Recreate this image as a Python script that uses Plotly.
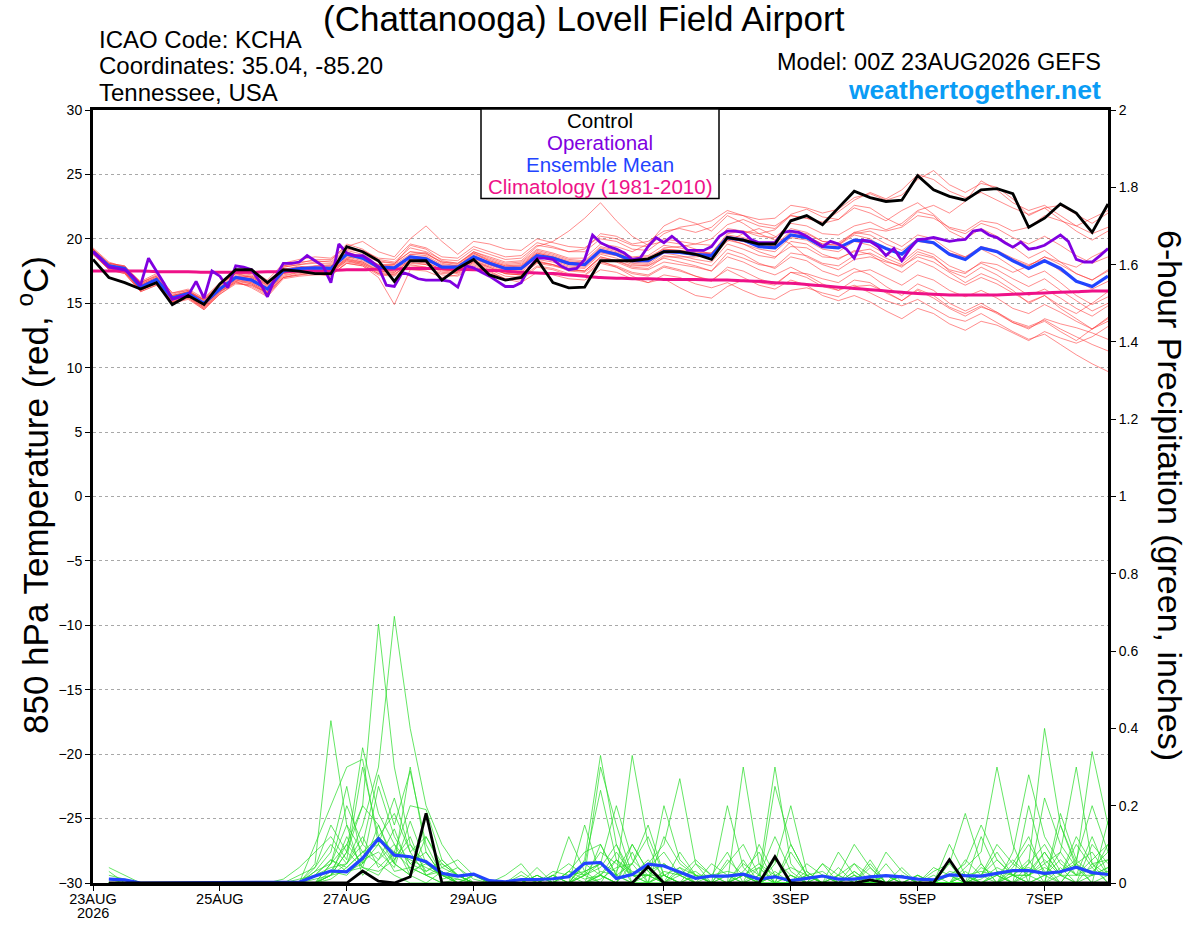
import pandas as pd
import plotly.graph_objects as go

# ---------------- data ----------------
times = pd.date_range("2026-08-23 00:00", periods=65, freq="6h")
times_op = pd.date_range("2026-08-23 00:00", periods=129, freq="3h")

tick_vals = ["2026-08-23", "2026-08-25", "2026-08-27", "2026-08-29",
             "2026-09-01", "2026-09-03", "2026-09-05", "2026-09-07"]
tick_text = ["23AUG", "25AUG", "27AUG", "29AUG", "1SEP", "3SEP", "5SEP", "7SEP"]
year_label = "2026"

control_t = [18.4, 17.0, 16.6, 16.1, 16.6, 14.9, 15.6, 14.9, 16.5, 17.6, 17.6, 16.6, 17.6,
             17.5, 17.3, 17.3, 19.4, 19.0, 18.3, 16.7, 18.3, 18.3, 16.8, 17.7, 18.4, 17.2,
             16.8, 17.0, 18.4, 16.6, 16.2, 16.25, 18.3, 18.3, 18.3, 18.45, 19.0, 19.0, 18.8,
             18.4, 20.1, 19.9, 19.6, 19.6, 21.4, 21.8, 21.1, 22.4, 23.7, 23.2, 22.9, 23.0,
             24.9, 23.8, 23.3, 23.0, 23.8, 23.9, 23.5, 20.9, 21.6, 22.7, 22.0, 20.5, 22.7]

mean_t = [19.0, 17.9, 17.7, 16.25, 16.85, 15.4, 15.75, 15.0, 16.1, 17.0, 16.8, 16.1, 17.5,
          17.7, 17.75, 17.7, 18.8, 18.5, 17.8, 17.75, 18.6, 18.45, 17.8, 17.8, 18.6, 18.1,
          17.7, 17.7, 18.7, 18.5, 18.1, 18.0, 19.1, 18.8, 18.3, 18.3, 19.0, 18.95, 18.8,
          18.7, 20.1, 19.9, 19.4, 19.3, 20.3, 20.1, 19.4, 19.3, 19.9, 19.8, 19.25, 18.8,
          19.9, 19.7, 18.8, 18.4, 19.3, 19.0, 18.3, 17.7, 18.3, 17.7, 16.7, 16.3, 17.1]

clim_t = [17.5, 17.5, 17.5, 17.5, 17.45, 17.45, 17.45, 17.4, 17.4, 17.4, 17.4, 17.45, 17.45,
          17.5, 17.5, 17.55, 17.6, 17.6, 17.65, 17.65, 17.7, 17.7, 17.7, 17.65, 17.6, 17.55,
          17.5, 17.4, 17.35, 17.3, 17.2, 17.1, 17.0, 16.95, 16.9, 16.9, 16.85, 16.85, 16.85,
          16.8, 16.8, 16.75, 16.7, 16.6, 16.55, 16.45, 16.35, 16.25, 16.15, 16.05, 15.95, 15.85,
          15.75, 15.7, 15.65, 15.65, 15.65, 15.65, 15.7, 15.75, 15.8, 15.85, 15.9, 15.95, 15.95]

oper_t = [19.0, 18.4, 17.8, 17.7, 17.6, 17.1, 16.4, 18.5, 17.5, 16.5, 15.3, 15.5, 15.6,
          16.7, 15.4, 17.5, 17.1, 16.2, 17.9, 17.8, 17.6, 16.7, 15.5, 17.0, 18.1, 18.1,
          18.2, 18.7, 18.3, 17.9, 16.6, 19.6, 18.9, 18.7, 18.7, 18.3, 17.8, 16.4, 16.3,
          17.4, 17.2, 16.9, 16.8, 16.8, 16.8, 16.7, 16.25, 17.9, 17.75, 17.4, 17.1, 16.7,
          16.3, 16.3, 16.6, 17.75, 18.5, 18.5, 18.4, 17.9, 17.6, 17.7, 18.4, 20.3, 19.7,
          19.4, 19.2, 18.9, 18.4, 18.5, 19.4, 20.1, 19.7, 20.2, 19.7, 19.1, 19.1, 19.1,
          19.4, 20.2, 20.6, 20.6, 20.5, 19.95, 19.7, 19.7, 19.7, 20.5, 20.6, 20.5, 20.2,
          19.8, 19.4, 19.8, 19.6, 19.2, 18.5, 19.9, 19.8, 19.4, 18.7, 19.25, 18.3, 19.2,
          19.95, 20.0, 20.1, 19.95, 19.8, 19.9, 19.95, 20.6, 20.7, 20.3, 20.1, 19.7, 19.35,
          19.75, 19.2, 19.3, 19.5, 19.9, 20.3, 19.8, 18.4, 18.2, 18.2, 18.7, 19.25]

members_t = [
    [19.2, 18.0, 17.5, 16.4, 16.9, 15.6, 15.9, 15.2, 16.4, 17.3, 17.0, 16.3, 17.8,
     18.0, 18.2, 18.3, 19.6, 19.2, 18.4, 18.2, 19.3, 19.0, 18.4, 18.3, 19.2, 18.8,
     18.4, 18.5, 19.5, 19.3, 19.0, 19.2, 20.4, 20.2, 19.6, 19.8, 20.6, 20.8, 20.5,
     20.9, 22.0, 21.8, 21.5, 21.6, 22.6, 22.4, 22.0, 22.3, 23.2, 23.5, 23.0, 23.4,
     24.6, 25.3, 24.2, 23.6, 24.3, 24.0, 23.1, 21.8, 22.4, 22.6, 21.9, 21.2, 22.0],
    [19.0, 17.7, 17.4, 16.0, 16.5, 15.1, 15.5, 14.6, 15.7, 16.5, 16.4, 15.8, 17.0,
     17.2, 17.4, 17.3, 18.3, 18.1, 17.4, 17.3, 18.0, 17.8, 17.3, 17.4, 18.2, 17.7,
     17.3, 17.2, 18.1, 17.9, 17.6, 17.5, 18.5, 18.2, 17.7, 17.6, 18.2, 18.0, 17.8,
     17.5, 18.6, 18.2, 17.6, 17.2, 17.8, 17.2, 16.5, 16.0, 16.4, 15.8, 15.2, 14.8,
     15.3, 14.6, 13.9, 13.6, 14.2, 13.5, 12.8, 12.2, 12.6, 11.8, 11.0, 10.3, 9.7],
    [18.9, 17.9, 17.8, 16.6, 17.2, 15.8, 16.0, 15.3, 16.2, 17.0, 17.1, 16.5, 17.6,
     17.9, 17.6, 17.5, 18.5, 18.7, 17.6, 17.5, 18.8, 18.9, 18.1, 17.9, 18.9, 18.3,
     17.9, 18.0, 19.0, 18.7, 18.3, 18.2, 19.3, 19.0, 18.5, 18.6, 19.2, 19.1, 19.0,
     18.8, 20.2, 20.0, 19.7, 19.4, 20.5, 20.2, 19.6, 19.5, 20.3, 20.0, 19.2, 18.8,
     19.8, 19.6, 18.9, 18.6, 19.4, 19.1, 18.5, 18.0, 18.4, 17.5, 16.8, 16.1, 16.7],
    [19.1, 18.1, 17.9, 16.5, 17.0, 15.5, 15.7, 15.1, 16.3, 17.2, 17.0, 16.4, 17.7,
     17.6, 17.9, 18.0, 19.0, 18.6, 17.9, 18.0, 19.5, 19.2, 18.3, 18.1, 19.0, 18.6,
     18.2, 18.3, 19.4, 19.8, 20.6, 21.6, 22.8, 21.4, 20.2, 19.5, 19.8, 19.6, 19.2,
     18.8, 20.0, 19.6, 19.0, 18.6, 19.4, 19.3, 18.6, 18.5, 19.0, 19.2, 18.5, 18.0,
     19.0, 18.6, 17.5, 17.0, 17.8, 17.2, 16.4, 15.6, 16.1, 15.4, 14.6, 14.0, 14.8],
    [18.8, 17.6, 17.3, 15.9, 16.4, 15.0, 15.4, 14.5, 15.8, 16.7, 16.2, 15.5, 16.9,
     17.1, 17.2, 17.2, 18.1, 17.9, 17.0, 14.9, 17.6, 17.5, 17.0, 17.2, 18.0, 17.5,
     16.9, 16.6, 17.4, 17.2, 16.9, 16.8, 17.6, 17.4, 16.9, 16.6, 17.2, 17.0, 16.5,
     16.2, 16.6, 16.0, 15.5, 15.3, 16.0, 16.2, 15.8, 15.5, 16.3, 16.4, 15.9, 15.2,
     16.0, 15.4, 14.6, 14.0, 14.7, 14.3, 13.6, 13.2, 13.7, 13.0, 12.4, 11.8, 11.3],
    [19.3, 18.2, 17.8, 16.7, 17.3, 15.8, 16.1, 15.4, 16.6, 17.5, 17.5, 16.8, 18.1,
     18.4, 18.6, 18.5, 19.4, 19.8, 19.0, 18.6, 20.0, 21.0, 19.8, 18.8, 19.8, 19.6,
     19.2, 19.1, 20.0, 19.7, 19.4, 19.3, 20.2, 20.0, 19.5, 19.4, 20.4, 20.9, 21.1,
     21.4, 22.2, 21.8, 21.2, 21.0, 21.8, 21.6, 21.3, 22.1, 23.0, 23.6, 23.1, 23.8,
     25.0, 24.6, 23.7, 23.2, 23.6, 23.0, 22.4, 21.9, 22.4, 21.5, 20.6, 19.9, 20.6],
    [18.9, 17.8, 17.6, 16.2, 16.8, 15.3, 15.6, 14.8, 16.0, 16.8, 16.6, 15.9, 17.3,
     17.5, 17.7, 17.6, 18.6, 18.3, 17.7, 17.5, 18.4, 18.3, 17.8, 17.7, 18.5, 18.0,
     17.6, 17.5, 18.6, 18.3, 17.9, 17.8, 18.9, 18.7, 18.1, 18.0, 18.9, 18.7, 18.4,
     18.2, 19.6, 19.2, 18.7, 18.5, 19.8, 19.6, 18.8, 18.4, 19.1, 18.8, 18.0, 17.4,
     18.3, 17.8, 17.0, 16.4, 17.0, 16.5, 15.8, 15.1, 15.6, 14.6, 13.8, 13.0, 13.6],
    [19.0, 18.0, 17.7, 16.3, 16.9, 15.5, 15.9, 15.1, 16.2, 17.1, 16.9, 16.2, 17.6,
     17.8, 17.8, 17.8, 18.9, 18.6, 18.0, 17.9, 18.7, 18.5, 17.9, 17.8, 18.7, 18.2,
     17.8, 17.9, 18.9, 18.6, 18.2, 18.1, 19.2, 18.9, 18.4, 18.4, 19.3, 19.4, 19.6,
     20.0, 21.1, 21.5, 21.0, 20.8, 21.9, 22.3, 21.7, 21.5, 22.6, 22.4, 21.6, 21.0,
     22.1, 21.8, 20.6, 20.0, 20.8, 20.2, 19.4, 18.5, 19.1, 18.2, 17.3, 16.8, 17.5],
    [19.2, 17.9, 17.5, 16.1, 16.7, 15.2, 15.6, 14.9, 16.0, 16.9, 16.7, 16.0, 17.4,
     17.6, 17.5, 17.4, 18.4, 18.2, 17.6, 17.7, 18.3, 18.1, 17.6, 17.5, 18.3, 17.9,
     17.4, 17.3, 18.2, 18.0, 17.7, 17.5, 18.6, 18.3, 17.9, 17.9, 18.5, 18.2, 17.9,
     17.5, 18.9, 18.5, 18.0, 17.8, 18.9, 18.7, 18.1, 17.9, 18.7, 18.9, 18.3, 17.8,
     18.8, 18.5, 17.6, 17.3, 18.2, 18.0, 17.4, 17.9, 18.6, 18.2, 17.8, 18.6, 19.2],
    [19.1, 18.0, 17.8, 16.5, 17.0, 15.6, 15.8, 15.3, 16.5, 17.3, 17.3, 16.6, 17.9,
     18.2, 18.3, 18.2, 19.2, 19.0, 18.3, 18.1, 19.0, 18.9, 18.2, 18.0, 19.0, 18.5,
     18.1, 18.2, 19.2, 18.9, 18.5, 18.5, 19.6, 19.4, 19.0, 19.6, 21.0, 21.6, 21.2,
     20.6, 21.8, 21.2, 20.4, 19.9, 20.8, 20.5, 19.8, 19.6, 20.4, 20.6, 20.0, 19.4,
     20.3, 20.0, 19.1, 18.6, 19.2, 18.6, 17.8, 17.0, 17.5, 16.6, 15.6, 14.9, 15.5],
    [18.8, 17.7, 17.5, 16.0, 16.6, 15.2, 15.5, 14.7, 15.9, 16.8, 16.5, 15.8, 17.1,
     17.4, 17.3, 17.1, 18.2, 18.0, 17.3, 17.2, 18.1, 18.0, 17.4, 17.3, 18.1, 17.6,
     17.1, 17.0, 17.9, 17.7, 17.3, 17.2, 18.2, 17.9, 17.4, 17.2, 17.9, 17.6, 17.1,
     16.8, 17.6, 17.0, 16.4, 16.1, 16.8, 16.4, 15.6, 15.2, 15.6, 15.1, 14.4, 13.8,
     14.6, 14.2, 13.4, 12.9, 13.6, 13.3, 12.7, 12.1, 12.8, 12.3, 11.9, 12.4, 13.2],
    [19.2, 18.1, 17.8, 16.6, 17.1, 15.7, 16.0, 15.2, 16.4, 17.4, 17.2, 16.5, 17.9,
     18.1, 18.4, 18.4, 19.3, 19.1, 18.5, 18.4, 19.6, 19.3, 18.6, 18.5, 19.4, 19.0,
     18.6, 18.7, 19.7, 19.4, 19.0, 19.0, 20.0, 19.8, 19.2, 19.1, 20.0, 19.8, 19.6,
     19.5, 20.8, 20.6, 20.2, 20.1, 21.2, 21.0, 20.4, 20.3, 21.0, 21.3, 20.7, 21.2,
     22.2, 22.6, 22.0, 22.9, 24.5, 23.8, 22.8, 22.2, 22.6, 21.8, 21.0, 20.4, 20.9],
    [18.9, 17.8, 17.4, 16.1, 16.6, 15.1, 15.4, 14.6, 15.9, 16.6, 16.4, 15.7, 17.0,
     17.3, 17.4, 17.4, 18.3, 18.0, 17.3, 17.2, 18.2, 18.0, 17.5, 17.4, 18.2, 17.8,
     17.3, 17.2, 18.2, 18.0, 17.5, 17.4, 18.3, 17.8, 17.1, 16.6, 16.9, 16.2, 15.6,
     15.4, 16.3, 16.8, 16.6, 16.4, 17.4, 17.3, 16.9, 16.6, 17.4, 17.6, 17.0, 16.4,
     17.2, 16.8, 16.0, 15.5, 16.0, 15.4, 14.6, 14.2, 14.9, 14.3, 13.6, 13.0, 13.8],
    [19.0, 17.9, 17.6, 16.4, 16.9, 15.4, 15.8, 15.0, 16.2, 17.0, 16.9, 16.1, 17.5,
     17.7, 17.8, 17.9, 18.7, 18.4, 17.8, 17.7, 18.6, 18.6, 17.9, 17.7, 18.6, 18.2,
     17.8, 17.8, 18.8, 18.5, 18.1, 18.0, 19.0, 18.8, 18.3, 18.2, 19.0, 18.9, 18.7,
     18.5, 19.9, 19.6, 19.2, 19.0, 20.1, 19.9, 19.2, 19.0, 19.8, 19.5, 18.8, 18.2,
     19.2, 18.8, 17.9, 17.4, 18.1, 17.6, 16.9, 16.3, 16.9, 16.0, 15.2, 14.4, 15.0],
    [19.1, 18.0, 17.6, 16.3, 16.8, 15.3, 15.7, 14.9, 16.1, 17.0, 16.8, 16.1, 17.5,
     17.7, 17.7, 17.7, 18.8, 18.5, 17.9, 17.8, 18.5, 18.4, 17.8, 17.6, 18.5, 18.1,
     17.7, 17.6, 18.6, 18.4, 18.0, 17.9, 19.0, 18.7, 18.2, 18.1, 19.1, 19.0, 18.8,
     18.9, 20.4, 20.6, 20.4, 20.7, 21.8, 21.6, 21.2, 21.5, 22.4, 22.0, 21.4, 22.2,
     22.8, 21.9, 20.8, 20.4, 21.2, 20.8, 20.1, 19.6, 20.2, 19.5, 18.7, 18.1, 18.6],
    [19.0, 17.8, 17.5, 16.2, 16.7, 15.3, 15.6, 14.8, 16.0, 16.9, 16.6, 15.9, 17.3,
     17.5, 17.6, 17.5, 18.5, 18.2, 17.5, 17.4, 18.3, 18.2, 17.6, 17.5, 18.4, 18.0,
     17.5, 17.4, 18.4, 18.2, 17.8, 17.7, 18.8, 18.5, 18.0, 17.9, 18.7, 18.5, 18.2,
     17.9, 19.2, 18.8, 18.1, 17.7, 18.6, 18.3, 17.5, 17.1, 17.7, 17.2, 16.3, 15.6,
     16.5, 16.0, 15.0, 14.4, 15.0, 14.3, 13.5, 13.0, 13.8, 13.4, 13.1, 12.7, 12.2],
    [19.2, 18.1, 17.9, 16.6, 17.1, 15.6, 15.9, 15.3, 16.5, 17.3, 17.1, 16.4, 17.8,
     18.0, 18.1, 18.1, 19.1, 18.8, 18.2, 18.1, 19.0, 18.8, 18.2, 18.1, 18.9, 18.4,
     18.0, 18.1, 19.1, 18.8, 18.4, 18.3, 19.4, 19.1, 18.6, 18.7, 19.5, 19.3, 19.0,
     18.9, 20.3, 20.1, 19.7, 19.5, 20.6, 20.4, 19.8, 19.7, 20.5, 20.3, 19.6, 19.1,
     20.0, 19.7, 18.9, 18.5, 19.3, 19.0, 18.4, 17.9, 18.6, 18.0, 17.3, 16.8, 17.6],
    [18.9, 17.7, 17.4, 16.0, 16.6, 15.1, 15.5, 14.7, 15.9, 16.7, 16.5, 15.8, 17.2,
     17.4, 17.5, 17.5, 18.4, 18.1, 17.5, 17.4, 18.3, 18.2, 17.6, 17.5, 18.3, 17.8,
     17.3, 17.2, 18.3, 18.0, 17.6, 17.5, 18.6, 18.3, 17.8, 17.7, 18.6, 18.6, 18.6,
     18.7, 19.8, 20.4, 20.8, 20.2, 19.6, 18.6, 18.0, 17.6, 18.4, 18.6, 18.2, 17.9,
     18.6, 18.2, 17.4, 16.6, 17.3, 16.8, 16.0, 15.0, 15.6, 14.8, 14.2, 15.0, 15.9],
    [19.1, 18.0, 17.7, 16.4, 16.9, 15.5, 15.8, 15.0, 16.2, 17.1, 16.9, 16.2, 17.6,
     17.8, 17.9, 17.9, 18.9, 18.6, 18.0, 18.0, 18.8, 18.7, 18.0, 17.9, 18.8, 18.3,
     17.9, 17.9, 18.9, 18.6, 18.2, 18.1, 19.1, 18.9, 18.4, 18.3, 19.2, 19.1, 18.9,
     18.7, 20.0, 19.8, 19.4, 19.3, 20.3, 20.2, 19.6, 19.5, 20.5, 20.8, 20.6, 20.9,
     21.8, 21.6, 20.9, 20.6, 21.4, 21.2, 20.6, 20.9, 21.8, 21.4, 21.0, 21.6, 22.2],
    [18.8, 17.6, 17.3, 15.9, 16.4, 15.0, 15.3, 14.5, 15.7, 16.6, 16.3, 15.6, 17.0,
     17.2, 17.3, 17.2, 18.1, 17.9, 17.2, 17.1, 17.9, 17.8, 17.2, 17.1, 17.9, 17.4,
     16.9, 16.8, 17.8, 17.6, 17.2, 17.1, 18.1, 17.8, 17.3, 17.1, 17.8, 17.5, 17.1,
     16.7, 17.8, 17.5, 16.9, 16.5, 17.4, 17.0, 16.3, 16.0, 16.8, 16.6, 15.8, 15.2,
     16.1, 15.6, 14.7, 14.2, 14.8, 14.2, 13.5, 13.1, 13.6, 12.8, 12.1, 13.0, 13.9],
]

control_p = [None, 0, 0, 0, 0, 0, 0, 0, 0, 0, 0, 0, 0,
             0, 0, 0, 0, 0.031, 0.005, 0, 0.016, 0.18, 0, 0, 0, 0,
             0, 0, 0, 0, 0, 0, 0, 0, 0, 0.042, 0, 0, 0,
             0, 0, 0, 0, 0.068, 0, 0, 0, 0, 0, 0.008, 0, 0,
             0, 0, 0.06, 0, 0, 0, 0, 0, 0, 0, 0, 0, 0]

mean_p = [None, 0.01, 0.008, 0, 0, 0, 0, 0, 0, 0, 0, 0, 0,
          0.002, 0.018, 0.031, 0.029, 0.064, 0.115, 0.072, 0.068, 0.055, 0.025, 0.018, 0.023, 0.006,
          0.003, 0.009, 0.009, 0.011, 0.016, 0.051, 0.053, 0.012, 0.022, 0.049, 0.044, 0.029, 0.012,
          0.018, 0.018, 0.023, 0.01, 0.016, 0.006, 0.012, 0.018, 0.01, 0.01, 0.016, 0.019, 0.016,
          0.01, 0.008, 0.021, 0.019, 0.018, 0.025, 0.032, 0.032, 0.025, 0.029, 0.041, 0.027, 0.022]

members_p = [
    [None, 0.04, 0.02, 0, 0, 0, 0, 0, 0, 0, 0, 0, 0,
     0, 0.05, 0.42, 0.15, 0.08, 0.05, 0.02, 0, 0, 0.03, 0, 0, 0,
     0, 0, 0, 0.02, 0, 0.05, 0.24, 0.06, 0, 0, 0.02, 0, 0,
     0, 0, 0.30, 0.05, 0, 0, 0.02, 0, 0, 0.03, 0, 0, 0,
     0, 0, 0, 0.04, 0.08, 0.30, 0.10, 0, 0.02, 0, 0, 0.05, 0],
    [None, 0.03, 0, 0, 0, 0, 0, 0, 0, 0, 0, 0, 0,
     0, 0, 0.02, 0.08, 0.20, 0.67, 0.30, 0.10, 0.05, 0.02, 0, 0, 0,
     0, 0, 0, 0, 0.03, 0.08, 0.10, 0.02, 0.33, 0.10, 0, 0, 0,
     0, 0, 0, 0.02, 0, 0.08, 0.02, 0, 0, 0, 0.04, 0, 0,
     0, 0, 0, 0, 0, 0.02, 0, 0.05, 0.40, 0.15, 0.05, 0, 0.02],
    [None, 0, 0, 0, 0, 0, 0, 0, 0, 0, 0, 0, 0,
     0.02, 0.04, 0.10, 0.05, 0.15, 0.30, 0.69, 0.40, 0.20, 0.10, 0.04, 0, 0,
     0, 0, 0.02, 0, 0.12, 0.03, 0, 0, 0, 0.05, 0.10, 0.27, 0.05,
     0, 0, 0, 0, 0.02, 0, 0, 0.05, 0, 0, 0, 0.02, 0,
     0, 0, 0.10, 0.02, 0, 0, 0, 0, 0, 0, 0.05, 0.34, 0.15],
    [None, 0.02, 0.01, 0, 0, 0, 0, 0, 0, 0, 0, 0, 0,
     0, 0.10, 0.20, 0.30, 0.32, 0.10, 0.05, 0.02, 0, 0, 0, 0.02, 0,
     0, 0, 0, 0, 0, 0.06, 0.33, 0.10, 0, 0, 0, 0.03, 0,
     0, 0.05, 0.10, 0.02, 0.30, 0.05, 0, 0, 0, 0, 0.06, 0, 0,
     0, 0, 0, 0, 0.12, 0.03, 0, 0.20, 0.05, 0, 0, 0, 0],
    [None, 0, 0, 0, 0, 0, 0, 0, 0, 0, 0, 0, 0,
     0, 0, 0.05, 0.20, 0.10, 0.28, 0.15, 0.29, 0.10, 0.02, 0, 0, 0,
     0, 0, 0.04, 0, 0, 0, 0.02, 0, 0.05, 0.15, 0.02, 0, 0,
     0, 0.20, 0.04, 0, 0, 0, 0.03, 0, 0.08, 0.02, 0, 0, 0,
     0, 0.03, 0.05, 0.18, 0.05, 0, 0, 0, 0, 0.02, 0, 0, 0.16],
    [None, 0, 0, 0, 0, 0, 0, 0, 0, 0, 0, 0, 0.01,
     0.04, 0.08, 0.12, 0.06, 0.30, 0.12, 0.18, 0.08, 0.12, 0.05, 0.02, 0, 0,
     0, 0, 0, 0.02, 0.05, 0.02, 0.08, 0.05, 0.02, 0, 0.12, 0.05, 0.02,
     0, 0, 0, 0.10, 0.02, 0, 0, 0, 0.02, 0.10, 0.04, 0, 0.02,
     0, 0, 0, 0, 0.02, 0.10, 0.05, 0.02, 0.08, 0.02, 0.10, 0.04, 0],
    [None, 0, 0, 0, 0, 0, 0, 0, 0, 0, 0, 0, 0,
     0, 0.03, 0.08, 0.25, 0.05, 0.12, 0.08, 0.20, 0.19, 0.06, 0.02, 0, 0,
     0, 0, 0, 0, 0, 0.15, 0.02, 0, 0.08, 0, 0, 0, 0.05,
     0.02, 0.08, 0, 0, 0.05, 0.20, 0.03, 0, 0, 0, 0, 0.05, 0,
     0.02, 0, 0, 0.06, 0.02, 0, 0.08, 0.28, 0.12, 0.05, 0.02, 0.02, 0.10],
    [None, 0, 0, 0, 0, 0, 0, 0, 0, 0, 0, 0, 0,
     0, 0, 0.05, 0.10, 0.20, 0.15, 0.06, 0.12, 0.02, 0, 0, 0, 0,
     0, 0.02, 0, 0, 0, 0.02, 0.05, 0.20, 0.06, 0.02, 0, 0.08, 0.02,
     0, 0, 0.05, 0.02, 0.12, 0.03, 0, 0, 0, 0.02, 0, 0, 0,
     0, 0, 0.05, 0, 0.05, 0, 0.02, 0, 0, 0.18, 0.06, 0.02, 0.04],
    [None, 0, 0, 0, 0, 0, 0, 0, 0, 0, 0, 0, 0,
     0.01, 0.02, 0.03, 0.10, 0.05, 0.25, 0.12, 0.05, 0.08, 0.02, 0.02, 0, 0,
     0.02, 0.05, 0, 0, 0.03, 0.02, 0.30, 0.15, 0.02, 0.06, 0.02, 0, 0,
     0, 0, 0.02, 0, 0, 0.02, 0, 0, 0.04, 0, 0, 0, 0.02,
     0, 0, 0.02, 0.05, 0.15, 0.06, 0.02, 0.05, 0.10, 0.03, 0.06, 0.20, 0.08],
    [None, 0, 0, 0, 0, 0, 0, 0, 0, 0, 0, 0, 0,
     0, 0.04, 0.15, 0.08, 0.35, 0.18, 0.10, 0.05, 0.03, 0.05, 0.02, 0, 0,
     0, 0, 0, 0.02, 0, 0, 0.02, 0, 0.10, 0.03, 0.05, 0.02, 0,
     0.05, 0.02, 0, 0, 0, 0.10, 0.02, 0, 0, 0, 0, 0.08, 0.03,
     0, 0, 0, 0.02, 0, 0, 0.05, 0.12, 0.02, 0.08, 0.30, 0.05, 0.02],
    [None, 0, 0, 0, 0, 0, 0, 0, 0, 0, 0, 0, 0,
     0, 0.02, 0.06, 0.04, 0.08, 0.10, 0.22, 0.08, 0.02, 0.04, 0.06, 0.02, 0,
     0, 0, 0.02, 0, 0.02, 0, 0.10, 0.02, 0, 0, 0.20, 0.06, 0.02,
     0, 0, 0.06, 0, 0.02, 0, 0, 0.05, 0.02, 0, 0, 0, 0,
     0.02, 0, 0, 0, 0, 0.02, 0.06, 0.02, 0, 0.04, 0, 0.10, 0.05],
    [None, 0, 0, 0, 0, 0, 0, 0, 0, 0, 0, 0, 0,
     0, 0, 0.02, 0.12, 0.04, 0.15, 0.05, 0.30, 0.08, 0.02, 0, 0.02, 0,
     0, 0, 0, 0.03, 0.02, 0.03, 0.05, 0.02, 0.05, 0.12, 0.02, 0, 0,
     0.02, 0.03, 0.02, 0, 0.25, 0.10, 0.02, 0, 0, 0.05, 0, 0, 0,
     0, 0.04, 0.02, 0, 0.02, 0.08, 0.02, 0, 0.22, 0.10, 0.04, 0, 0],
    [None, 0, 0, 0, 0, 0, 0, 0, 0, 0, 0, 0, 0,
     0, 0.02, 0.04, 0.05, 0.10, 0.06, 0.14, 0.03, 0.05, 0.03, 0, 0, 0,
     0, 0, 0, 0, 0, 0, 0.02, 0.08, 0.02, 0, 0.03, 0.02, 0.06,
     0.02, 0, 0, 0.02, 0, 0, 0.05, 0.02, 0, 0, 0, 0.02, 0,
     0, 0, 0, 0, 0.04, 0.02, 0, 0.02, 0.06, 0.02, 0.12, 0.05, 0.06],
    [None, 0, 0, 0, 0, 0, 0, 0, 0, 0, 0, 0, 0,
     0, 0, 0.03, 0.02, 0.06, 0.08, 0.04, 0.16, 0.05, 0.02, 0.04, 0.01, 0,
     0, 0.03, 0, 0, 0, 0.05, 0.02, 0, 0, 0.04, 0.08, 0.02, 0,
     0, 0.06, 0.02, 0.04, 0, 0, 0, 0.02, 0, 0.03, 0, 0, 0.04,
     0, 0.02, 0, 0.03, 0, 0, 0.04, 0.10, 0.03, 0, 0.05, 0.08, 0.02],
    [None, 0, 0, 0, 0, 0, 0, 0, 0, 0, 0, 0, 0,
     0, 0.03, 0.05, 0.15, 0.02, 0.06, 0.10, 0.02, 0.12, 0.04, 0.02, 0, 0,
     0, 0, 0.02, 0, 0, 0.02, 0.04, 0.10, 0.02, 0.02, 0, 0.04, 0.02,
     0, 0, 0.03, 0.08, 0, 0, 0.02, 0, 0.02, 0, 0.05, 0, 0,
     0.02, 0, 0.02, 0, 0.02, 0.06, 0.02, 0.06, 0, 0.15, 0.04, 0.03, 0.06],
    [None, 0, 0, 0, 0, 0, 0, 0, 0, 0, 0, 0, 0,
     0, 0.01, 0.02, 0.08, 0.04, 0.03, 0.06, 0.10, 0.03, 0.06, 0.02, 0, 0,
     0, 0, 0, 0, 0.03, 0.01, 0.02, 0.06, 0.03, 0.02, 0.02, 0, 0.02,
     0, 0.02, 0, 0, 0.03, 0, 0, 0.02, 0, 0, 0.02, 0, 0,
     0, 0, 0, 0, 0, 0, 0.03, 0.04, 0.02, 0.06, 0.02, 0.12, 0.02],
    [None, 0.01, 0, 0, 0, 0, 0, 0, 0, 0, 0, 0, 0,
     0, 0, 0.02, 0.05, 0.12, 0.04, 0.08, 0.06, 0.04, 0.02, 0.01, 0, 0,
     0, 0, 0, 0, 0, 0, 0.03, 0.02, 0, 0.02, 0.05, 0.02, 0,
     0, 0, 0.02, 0, 0.06, 0.02, 0, 0, 0.02, 0.05, 0.02, 0, 0,
     0, 0, 0.03, 0.02, 0, 0.03, 0.02, 0, 0.02, 0.03, 0.05, 0.02, 0.04],
    [None, 0, 0, 0, 0, 0, 0, 0, 0, 0, 0, 0, 0,
     0, 0.02, 0.06, 0.03, 0.05, 0.10, 0.03, 0.04, 0.02, 0.03, 0, 0, 0,
     0, 0, 0, 0.02, 0, 0.03, 0.05, 0.03, 0.10, 0.03, 0, 0.02, 0.03,
     0, 0.02, 0.02, 0.05, 0.02, 0, 0.02, 0, 0, 0.02, 0, 0.02, 0,
     0, 0, 0, 0.02, 0.03, 0.02, 0, 0.03, 0.08, 0.02, 0, 0.02, 0.03],
    [None, 0, 0, 0, 0, 0, 0, 0, 0, 0, 0, 0, 0,
     0, 0, 0.01, 0.04, 0.08, 0.12, 0.05, 0.02, 0.06, 0.01, 0.02, 0, 0,
     0, 0, 0, 0, 0, 0, 0.01, 0.04, 0.05, 0, 0.02, 0.04, 0,
     0, 0, 0, 0.04, 0, 0.02, 0, 0, 0, 0, 0, 0, 0.02,
     0, 0, 0, 0, 0.01, 0.04, 0.02, 0.02, 0.05, 0.08, 0.02, 0.06, 0.10],
    [None, 0, 0, 0, 0, 0, 0, 0, 0, 0, 0, 0, 0,
     0, 0, 0.02, 0.03, 0.04, 0.02, 0.08, 0.04, 0.02, 0, 0.01, 0, 0,
     0, 0, 0, 0, 0, 0.02, 0, 0.06, 0.02, 0.02, 0, 0, 0.02,
     0.02, 0, 0.02, 0, 0.02, 0.04, 0.02, 0.03, 0, 0, 0, 0, 0,
     0, 0, 0, 0, 0, 0, 0.02, 0.02, 0.04, 0.02, 0.02, 0.04, 0.08],
]

for s in [control_t, mean_t, clim_t, control_p, mean_p] + members_t + members_p:
    assert len(s) == 65, len(s)
assert len(oper_t) == 129, len(oper_t)

# ---------------- figure ----------------
FONT = "Liberation Sans, Arial, sans-serif"
RED = "rgba(255,50,50,0.7)"
GREEN = "rgba(40,220,40,0.9)"
BLACK = "#000000"
PURPLE = "#8000e0"
BLUE = "#2244ff"
PINK = "#ee1188"

fig = go.Figure()

for m in members_t:
    fig.add_trace(go.Scatter(x=times, y=m, mode="lines",
                             line=dict(color=RED, width=0.8), hoverinfo="skip"))
for m in members_p:
    fig.add_trace(go.Scatter(x=times, y=m, mode="lines", yaxis="y2",
                             line=dict(color=GREEN, width=0.8), hoverinfo="skip"))

fig.add_trace(go.Scatter(x=times, y=mean_p, mode="lines", yaxis="y2",
                         line=dict(color=BLUE, width=3.2)))
fig.add_trace(go.Scatter(x=times, y=control_p, mode="lines", yaxis="y2",
                         line=dict(color=BLACK, width=2.8)))

fig.add_trace(go.Scatter(x=times, y=clim_t, mode="lines",
                         line=dict(color=PINK, width=3, shape="spline")))
fig.add_trace(go.Scatter(x=times, y=mean_t, mode="lines",
                         line=dict(color=BLUE, width=3.2)))
fig.add_trace(go.Scatter(x=times_op, y=oper_t, mode="lines",
                         line=dict(color=PURPLE, width=2.8)))
fig.add_trace(go.Scatter(x=times, y=control_t, mode="lines",
                         line=dict(color=BLACK, width=2.8)))

W, H = 1200, 927
L, R, T, B = 93, 92, 110, 44
PW, PH = W - L - R, H - T - B


def px(x):
    return (x - L) / PW


def py(y):
    return (H - B - y) / PH


fig.update_layout(
    width=W, height=H,
    margin=dict(l=L, r=R, t=T, b=B, pad=0, autoexpand=False),
    paper_bgcolor="white", plot_bgcolor="white",
    showlegend=False,
    font=dict(family=FONT, color="black", size=14),
    xaxis=dict(
        range=["2026-08-23 00:00", "2026-09-08 00:00"],
        tickvals=tick_vals, ticktext=tick_text, automargin=False,
        tickfont=dict(size=14.5), ticks="outside", ticklen=5, tickcolor="black",
        ticklabelstandoff=-4,
        showgrid=False, zeroline=False,
        showline=True, linecolor="black", linewidth=3, mirror=True,
    ),
    yaxis=dict(
        range=[-30, 30], dtick=5, tick0=0, automargin=False,
        tickfont=dict(size=14), ticks="outside", ticklen=5, tickcolor="black",
        showgrid=True, gridcolor="#a8a8a8", gridwidth=1, griddash="dot",
        zeroline=False, showline=True, linecolor="black", linewidth=3,
    ),
    yaxis2=dict(
        range=[0, 2], dtick=0.2, tick0=0, overlaying="y", side="right", automargin=False,
        tickfont=dict(size=14), ticks="outside", ticklen=5, tickcolor="black",
        showgrid=False, zeroline=False, showline=True, linecolor="black", linewidth=3,
    ),
)

annotations = [
    dict(text="(Chattanooga) Lovell Field Airport", x=px(584), y=py(19),
         xanchor="center", yanchor="middle", font=dict(size=35)),
    dict(text="ICAO Code: KCHA", x=px(97), y=py(40), xanchor="left", yanchor="middle",
         font=dict(size=24)),
    dict(text="Coordinates: 35.04, -85.20", x=px(97), y=py(66), xanchor="left",
         yanchor="middle", font=dict(size=24)),
    dict(text="Tennessee, USA", x=px(97), y=py(93), xanchor="left", yanchor="middle",
         font=dict(size=24)),
    dict(text="Model: 00Z 23AUG2026 GEFS", x=px(1103), y=py(62), xanchor="right",
         yanchor="middle", font=dict(size=23.5)),
    dict(text="<b>weathertogether.net</b>", x=px(1103), y=py(90), xanchor="right",
         yanchor="middle", font=dict(size=26.5, color="#0a9cf5")),
    dict(text="Control", x=px(600), y=py(121), xanchor="center", yanchor="middle",
         font=dict(size=20.5, color=BLACK)),
    dict(text="Operational", x=px(600), y=py(142), xanchor="center", yanchor="middle",
         font=dict(size=20.5, color=PURPLE)),
    dict(text="Ensemble Mean", x=px(600), y=py(164), xanchor="center", yanchor="middle",
         font=dict(size=20.5, color=BLUE)),
    dict(text="Climatology (1981-2010)", x=px(600), y=py(186), xanchor="center",
         yanchor="middle", font=dict(size=20.5, color=PINK)),
    dict(text="850 hPa Temperature (red, <sup>o</sup>C)", x=px(33), y=py(495), textangle=-90,
         xanchor="center", yanchor="middle", font=dict(size=35)),
    dict(text="6-hour Precipitation (green, inches)", x=px(1170), y=py(495), textangle=90,
         xanchor="center", yanchor="middle", font=dict(size=34)),
]
for a in annotations:
    a.update(xref="paper", yref="paper", showarrow=False)
annotations.append(dict(text=year_label, x=tick_vals[0], xref="x", y=py(913), yref="paper",
                        xanchor="center", yanchor="middle", showarrow=False,
                        font=dict(size=14.5)))
fig.update_layout(annotations=annotations)

fig.add_shape(type="rect", xref="paper", yref="paper",
              x0=px(481), x1=px(719), y0=py(198.5), y1=py(109),
              line=dict(color="black", width=1.5), fillcolor="white", layer="above")

fig.write_html("out.html", config={"displayModeBar": False},
               post_script="document.body.style.margin='0';")
